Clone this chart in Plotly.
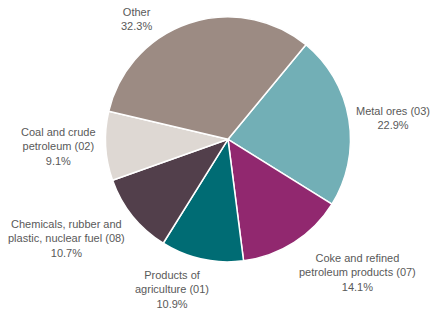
import plotly.graph_objects as go

labels = ["Metal ores (03)", "Coke and refined<br>petroleum products (07)", "Products of<br>agriculture (01)",
          "Chemicals, rubber and<br>plastic, nuclear fuel (08)", "Coal and crude<br>petroleum (02)", "Other"]
values = [22.9, 14.1, 10.9, 10.7, 9.1, 32.3]
colors = ["#72AFB6", "#91286F", "#006C74", "#523F4B", "#DED8D3", "#9C8B83"]
# label centres in pixels (layout only)
label_pos = [(393, 118), (357, 272), (172, 289), (66, 238), (58, 147), (136, 19)]

W, H = 432, 311
cx, cy, r = 228, 139.3, 122.5

fig = go.Figure(go.Pie(
    labels=labels, values=values, sort=False, direction="clockwise", rotation=39.5,
    marker=dict(colors=colors, line=dict(color="white", width=1.5)),
    textinfo="none", hoverinfo="label+percent", showlegend=False,
    domain=dict(x=[(cx - r) / W, (cx + r) / W], y=[1 - (cy + r) / H, 1 - (cy - r) / H]),
))

font = dict(family="Liberation Sans Narrow, Arial Narrow, Liberation Sans, sans-serif", size=11, color="#595959")
for lab, v, (px, py) in zip(labels, values, label_pos):
    fig.add_annotation(x=px / W, y=1 - py / H, xref="paper", yref="paper",
                       text=f"{lab}<br>{v:.1f}%", showarrow=False, font=font,
                       xanchor="center", yanchor="middle", align="center")

fig.update_layout(width=W, height=H, margin=dict(l=0, r=0, t=0, b=0),
                  paper_bgcolor="white", plot_bgcolor="white")
fig.write_html("out.html", config={"displayModeBar": False},
               post_script="document.body.style.margin='0px';")
